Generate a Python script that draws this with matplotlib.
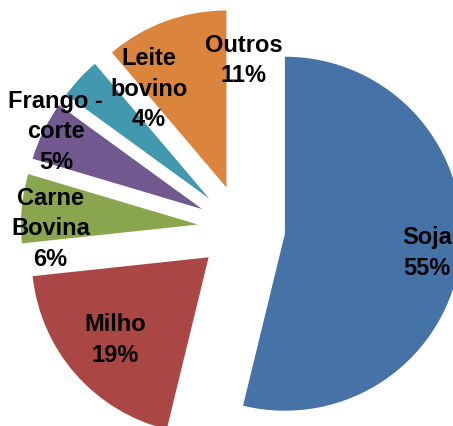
import numpy as np
import matplotlib
matplotlib.use('Agg')
from matplotlib import pyplot as plt

# data (wedge shares as drawn, percent labels as printed on the chart)
labels = ['Soja', 'Milho', 'Carne\nBovina', 'Frango -\ncorte', 'Leite\nbovino', 'Outros']
values = [53.8, 19.5, 6.3, 5.4, 3.8, 11.2]
pct_labels = ['55%', '19%', '6%', '5%', '4%', '11%']
colors = ['#4572A7', '#AA4643', '#89A54E', '#71588F', '#4198AF', '#DB843D']

# label placement tweaks (angle offset from wedge middle, distance from pie centre)
lab_dang = [-0.3, -0.1, 5.0, -1.5, -13.7, -21.0]
lab_dist = [1.056, 0.951, 1.079, 1.185, 0.950, 0.955]

W, H = 453, 427
fig = plt.figure(figsize=(W / 100, H / 100), dpi=100)
ax = fig.add_axes([0, 0, 1, 1])

wedges, _ = ax.pie(values, explode=[0.247] * len(values), colors=colors,
                   startangle=90, counterclock=False, radius=1,
                   wedgeprops={'linewidth': 0})

# pie centre at (241.5, 229.5) px, radius 177 px
cx, cy, r = 241.5, 229.5, 177
ax.set_xlim(-cx / r, (W - cx) / r)
ax.set_ylim(-(H - cy) / r, cy / r)
ax.set_aspect('equal')
ax.axis('off')

for w, lab, pct, da, d in zip(wedges, labels, pct_labels, lab_dang, lab_dist):
    ang = np.deg2rad((w.theta1 + w.theta2) / 2 + da)
    ax.text(d * np.cos(ang), d * np.sin(ang), lab + '\n' + pct,
            ha='center', va='center', multialignment='center',
            fontsize=17, fontweight='bold', family='Liberation Sans',
            linespacing=1.42, color='black')

fig.savefig('out.png', dpi=100)
